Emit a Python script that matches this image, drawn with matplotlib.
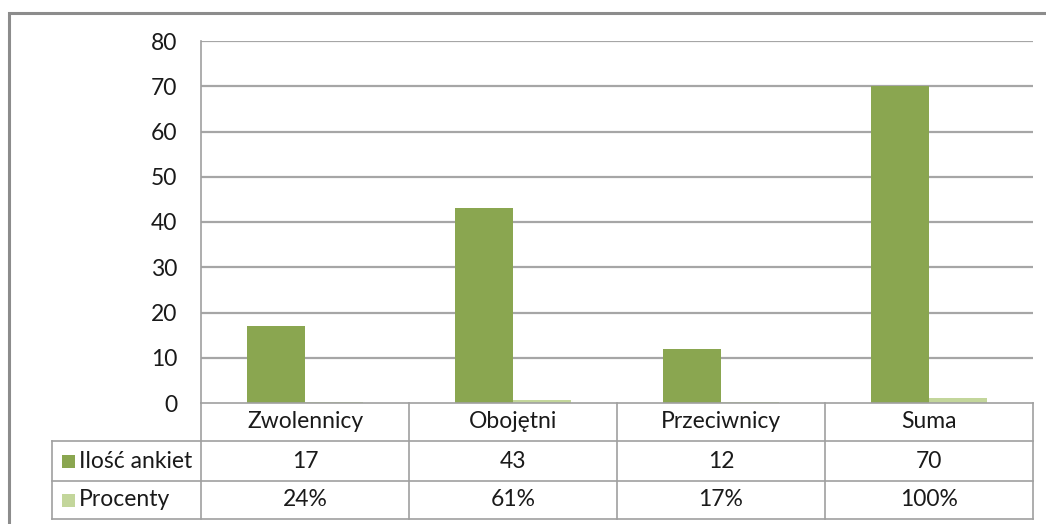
import matplotlib
matplotlib.use("Agg")
import matplotlib.pyplot as plt
from matplotlib.patches import Rectangle
from matplotlib.transforms import blended_transform_factory

categories = ["Zwolennicy", "Obojętni", "Przeciwnicy", "Suma"]
series_names = ["Ilość ankiet", "Procenty"]
ankiety = [17, 43, 12, 70]
procenty = [0.24, 0.61, 0.17, 1.00]
ankiety_labels = ["17", "43", "12", "70"]
procenty_labels = ["24%", "61%", "17%", "100%"]
yticks = [0, 10, 20, 30, 40, 50, 60, 70, 80]

c_dark = "#8AA650"
c_light = "#C3D69B"
grid_c = "#A6A6A6"
line_c = "#A0A0A0"
FS = 16.5
txt_c = "#1A1A1A"

plt.rcParams['font.family'] = ['Lato', 'DejaVu Sans']

fig = plt.figure(figsize=(10.46, 5.24), dpi=100)
W, H = 1046, 524
L, R, T, B = 201, 1033, 41, 403
ax = fig.add_axes([L / W, 1 - B / H, (R - L) / W, (B - T) / H])

n = len(categories)
x = list(range(n))
bw = 0.279
ax.bar([i - bw / 2 for i in x], ankiety, width=bw, color=c_dark, zorder=3)
ax.bar([i + bw / 2 for i in x], procenty, width=bw, color=c_light, zorder=3)

ax.set_xlim(-0.5, n - 0.5)
ax.set_ylim(0, 80)
ax.set_yticks(yticks)
ax.set_yticklabels([str(v) for v in yticks], fontsize=FS, color=txt_c)
ax.set_xticks([])
ax.tick_params(axis='y', length=0, pad=17)
for v in yticks[1:]:
    ax.axhline(v, color=grid_c, lw=1.6, zorder=1)
for s in ["top", "right", "bottom"]:
    ax.spines[s].set_visible(False)
ax.spines["left"].set_color(line_c)
ax.spines["left"].set_linewidth(1.2)

# data table
tr = blended_transform_factory(ax.transData, ax.transAxes)
ph = B - T
def ya(ypix):
    return -(ypix - B) / ph

y0 = ya(403)
y1 = ya(441)
y2 = ya(481)
y3 = ya(519)
x_left = -0.5 - (L - 52) / ((R - L) / n)
lk = dict(color=line_c, lw=1.2, clip_on=False, transform=tr, zorder=5)
for yy in (y0, y1, y2, y3):
    xs = -0.5 if yy == y0 else x_left
    ax.plot([xs, n - 0.5], [yy, yy], **lk)
for i in range(n + 1):
    ax.plot([i - 0.5, i - 0.5], [y0, y3], **lk)
ax.plot([x_left, x_left], [y1, y3], **lk)

tk = dict(transform=tr, fontsize=FS, color=txt_c, ha="center", va="center", clip_on=False)
for i, c in enumerate(categories):
    ax.text(i, (y0 + y1) / 2, c, **tk)
    ax.text(i, (y1 + y2) / 2, ankiety_labels[i], **tk)
    ax.text(i, (y2 + y3) / 2, procenty_labels[i], **tk)

# row headers with legend keys
unit = (R - L) / n
for yy_top, yy_bot, name, col in ((y1, y2, series_names[0], c_dark), (y2, y3, series_names[1], c_light)):
    ym = (yy_top + yy_bot) / 2
    kx = x_left + 10 / unit
    ksz_x = 13 / unit
    ksz_y = 13 / ph
    ax.add_patch(Rectangle((kx, ym - ksz_y / 2), ksz_x, ksz_y, facecolor=col,
                           edgecolor="none", transform=tr, clip_on=False))
    ax.text(x_left + 27 / unit, ym, name, transform=tr, fontsize=FS, color=txt_c,
            ha="left", va="center", clip_on=False)

# outer chart frame
fig.patches.append(Rectangle((9 / W, -0.1), 1.2, 1 - 13 / H + 0.1, transform=fig.transFigure,
                             fill=False, edgecolor="#8C8C8C", lw=2.2))

fig.savefig("out.png", dpi=100)
